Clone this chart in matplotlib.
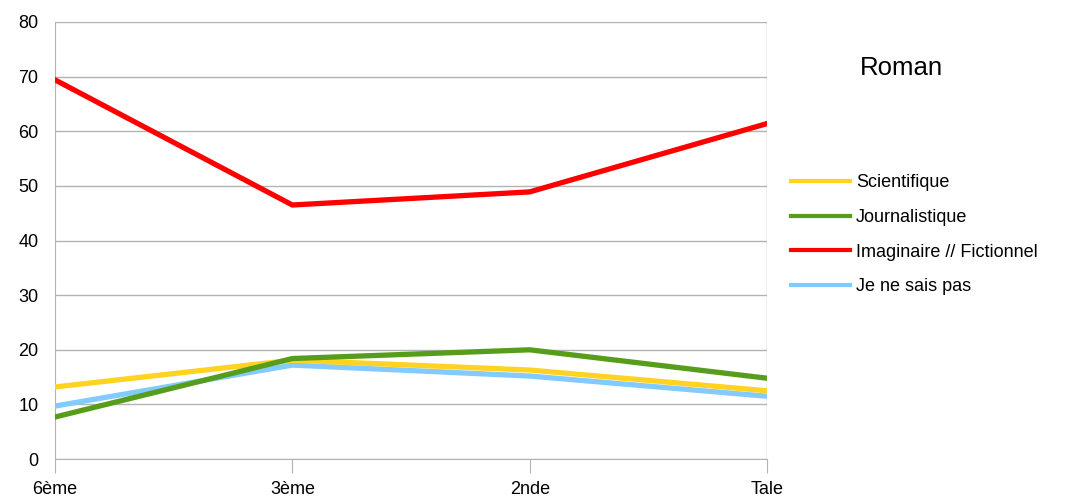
import matplotlib
matplotlib.use("Agg")
import matplotlib.pyplot as plt

categories = ["6ème", "3ème", "2nde", "Tale"]
scientifique = [13.2, 18.1, 16.3, 12.5]
journalistique = [7.7, 18.4, 20.0, 14.8]
imaginaire = [69.4, 46.5, 48.9, 61.4]
je_ne_sais_pas = [9.7, 17.2, 15.2, 11.5]
yticks = [0, 10, 20, 30, 40, 50, 60, 70, 80]

plt.rcParams['font.family'] = ['Liberation Sans', 'DejaVu Sans']

fig = plt.figure(figsize=(10.69, 4.99), dpi=100)
ax = fig.add_axes([0.0515, 0.080, 0.666, 0.876])

x = list(range(len(categories)))
series = [
    ("Scientifique", scientifique, "#ffd320"),
    ("Journalistique", journalistique, "#579d1c"),
    ("Imaginaire // Fictionnel", imaginaire, "#ff0000"),
    ("Je ne sais pas", je_ne_sais_pas, "#83caff"),
]
draw_order = [3, 0, 1, 2]
handles = {}
for i in draw_order:
    name, vals, col = series[i]
    h, = ax.plot(x, vals, color=col, lw=3.8, label=name, solid_joinstyle='miter', zorder=3)
    handles[i] = h

ax.set_xlim(0, len(categories) - 1)
ax.set_ylim(0, 80)
ax.set_yticks(yticks)
ax.set_xticks(x)
ax.set_xticklabels(categories)
ax.yaxis.grid(True, color="#b3b3b3", lw=1)
ax.set_axisbelow(True)
for s in ["top", "right"]:
    ax.spines[s].set_visible(False)
for s in ["left", "bottom"]:
    ax.spines[s].set_color("#b3b3b3")
ax.axvline(len(categories) - 1, color="#b3b3b3", lw=1, zorder=1)
ax.tick_params(axis='x', length=10, color="#b3b3b3", labelsize=13, pad=6, labelcolor="black")
ax.tick_params(axis='y', length=0, labelsize=13, pad=12, labelcolor="black")

fig.text(0.843, 0.864, "Roman", fontsize=18.5, ha="center", va="center")

leg = fig.legend([handles[i] for i in range(4)], [s[0] for s in series],
                 loc="upper left", bbox_to_anchor=(0.733, 0.665), frameon=False,
                 fontsize=13, handlelength=3.3, handletextpad=0.3, labelspacing=0.98,
                 borderaxespad=0)
for l in leg.get_lines():
    l.set_linewidth(3)

fig.savefig("out.png", dpi=100)
